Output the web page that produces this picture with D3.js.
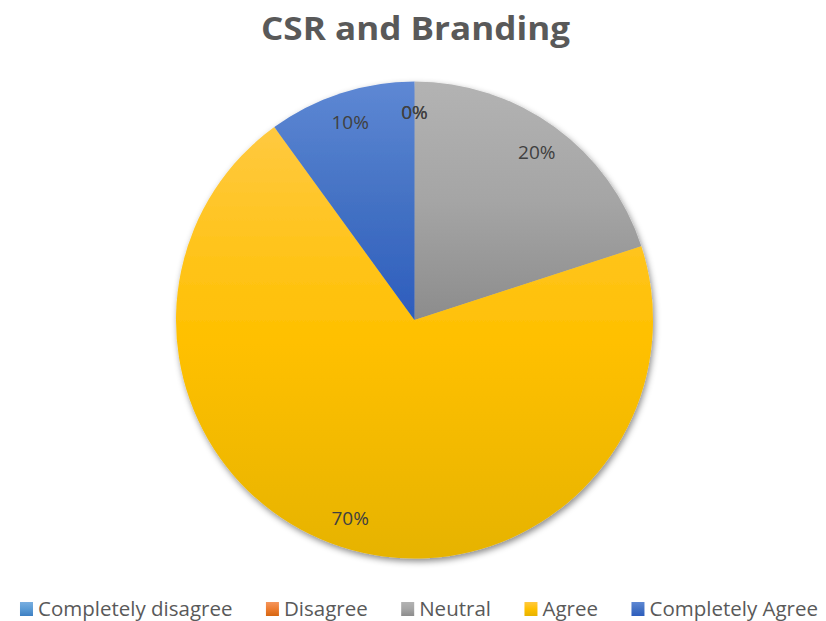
<!DOCTYPE html>
<html>
<head>
<meta charset="utf-8">
<script src="https://cdn.jsdelivr.net/npm/d3@7"></script>
<style>
  html, body { margin: 0; padding: 0; background: #fff; }
  svg { display: block; }
</style>
</head>
<body>
<svg id="chart" width="826" height="621"></svg>
<script>
// Survey responses for the CSR and Branding question
const categories = ["Completely disagree", "Disagree", "Neutral", "Agree", "Completely Agree"];
const shares = [0, 0, 20, 70, 10];
const labels = ["0%", "0%", "20%", "70%", "10%"];

// Three-stop gradient for each category (top tint, base, bottom shade)
const gradTop = ["#79aee0", "#f5955c", "#b3b3b3", "#ffc940", "#5e88d4"];
const gradMid = ["#5b9bd5", "#ed7d31", "#a5a5a5", "#ffc000", "#4472c4"];
const gradBottom = ["#3d7fc2", "#d56612", "#8c8c8c", "#e6b300", "#2d5dbd"];

const W = 826, H = 621;
const svg = d3.select("#chart");
const defs = svg.append("defs");

categories.forEach((c, i) => {
  const g = defs.append("linearGradient")
    .attr("id", "grad" + i)
    .attr("x1", 0).attr("y1", 0).attr("x2", 0).attr("y2", 1);
  g.append("stop").attr("offset", "0%").attr("stop-color", gradTop[i]);
  g.append("stop").attr("offset", "50%").attr("stop-color", gradMid[i]);
  g.append("stop").attr("offset", "100%").attr("stop-color", gradBottom[i]);
});

const shadow = defs.append("filter").attr("id", "shadow")
  .attr("x", "-10%").attr("y", "-10%").attr("width", "120%").attr("height", "120%");
shadow.append("feDropShadow")
  .attr("dx", 1.5).attr("dy", 3).attr("stdDeviation", 3)
  .attr("flood-color", "#000").attr("flood-opacity", 0.45);

// Title
svg.append("text")
  .attr("x", 415.5).attr("y", 40)
  .attr("text-anchor", "middle")
  .attr("font-family", "'Open Sans', sans-serif")
  .attr("font-weight", "bold")
  .attr("font-size", 33)
  .attr("textLength", 309)
  .attr("lengthAdjust", "spacingAndGlyphs")
  .attr("fill", "#595959")
  .text("CSR and Branding");

// Pie
const cx = 414.5, cy = 320, R = 238.5;
const pie = d3.pie().sort(null).value(d => d).startAngle(0).endAngle(2 * Math.PI);
const arcs = pie(shares);
const arc = d3.arc().innerRadius(0).outerRadius(R);
const labelArc = d3.arc().innerRadius(208).outerRadius(208);

const g = svg.append("g").attr("transform", `translate(${cx},${cy})`);
g.append("g").attr("filter", "url(#shadow)")
  .selectAll("path")
  .data(arcs)
  .join("path")
  .attr("d", arc)
  .attr("fill", (d, i) => `url(#grad${i})`);

g.selectAll("text.lbl")
  .data(arcs)
  .join("text")
  .attr("class", "lbl")
  .attr("transform", d => `translate(${labelArc.centroid(d)})`)
  .attr("text-anchor", "middle")
  .attr("dominant-baseline", "central")
  .attr("font-family", "'Open Sans', sans-serif")
  .attr("font-size", 19)
  .attr("fill", "#404040")
  .text((d, i) => labels[i]);

// Legend
const legend = svg.append("g");
const items = legend.selectAll("g")
  .data(categories)
  .join("g");
items.append("rect")
  .attr("width", 13).attr("height", 14)
  .attr("y", 602)
  .attr("fill", (d, i) => `url(#grad${i})`);
items.append("text")
  .attr("x", 18).attr("y", 616)
  .attr("font-family", "'Open Sans', sans-serif")
  .attr("font-size", 20.5)
  .attr("fill", "#595959")
  .text(d => d);

const gap = 33.5;
let x = 0;
const offsets = [];
items.each(function () {
  const w = d3.select(this).select("text").node().getComputedTextLength();
  offsets.push(x);
  x += 18 + w + gap;
});
const total = x - gap;
const startX = 419 - total / 2;
items.attr("transform", (d, i) => `translate(${startX + offsets[i]},0)`);
</script>
</body>
</html>
